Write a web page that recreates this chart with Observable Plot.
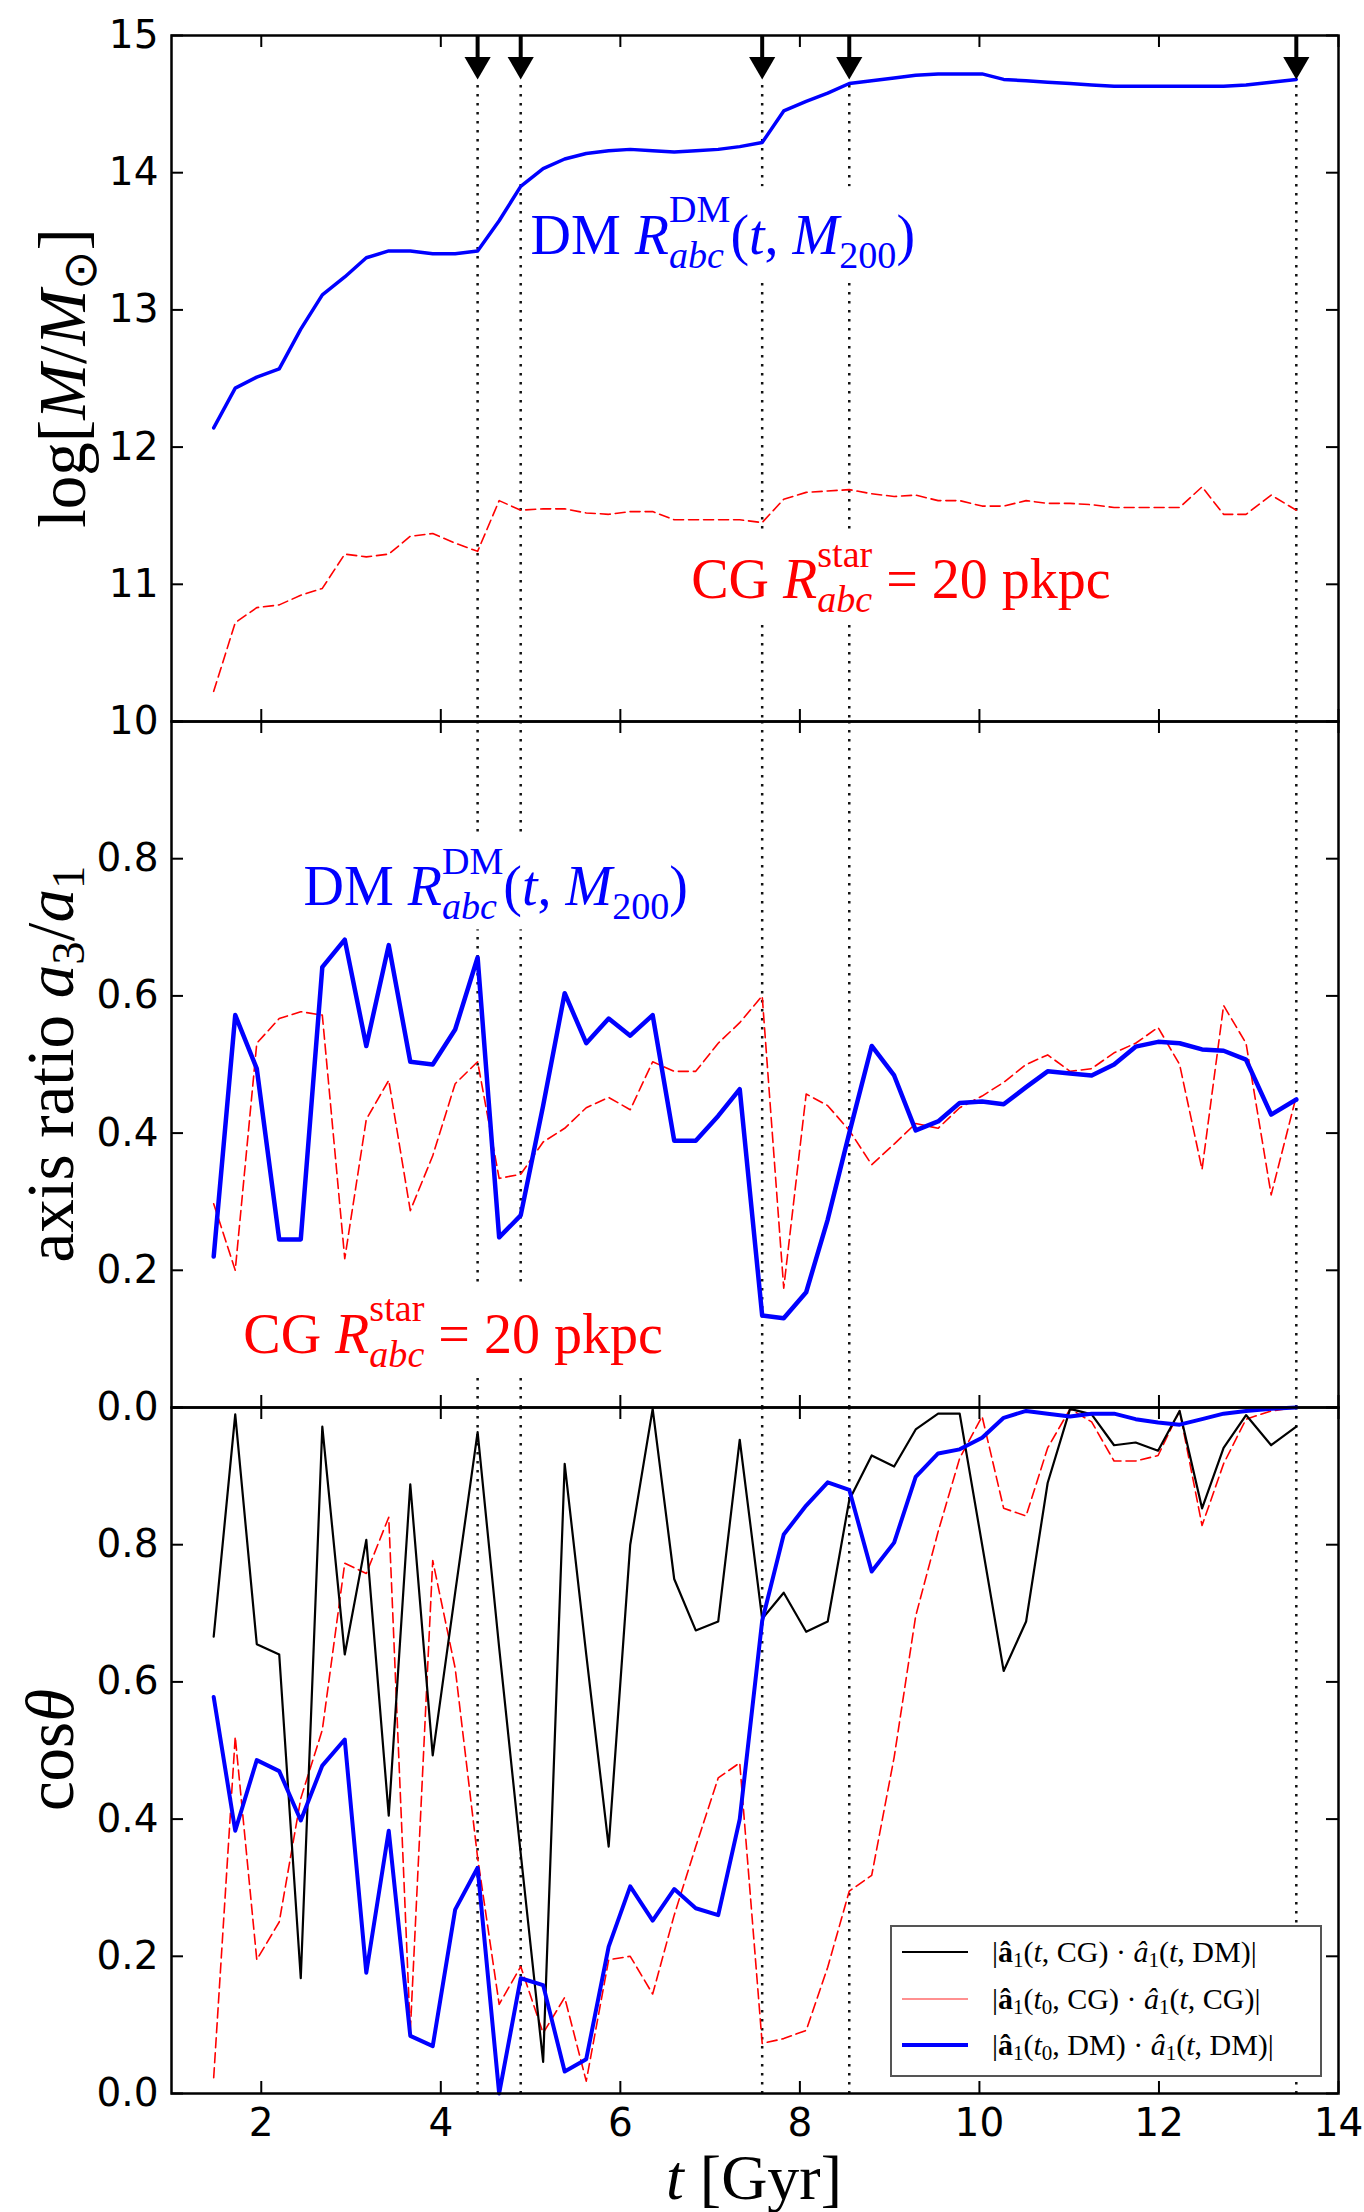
<!DOCTYPE html>
<html><head><meta charset="utf-8">
<script src="https://cdn.jsdelivr.net/npm/d3@7"></script>
<script src="https://cdn.jsdelivr.net/npm/@observablehq/plot@0.6"></script>
<style>
html,body{margin:0;padding:0;background:#fff;}
#chart{position:relative;width:1364px;height:2212px;overflow:hidden;background:#fff;}
.panel{position:absolute;left:0;}
.lab{position:absolute;font-family:"Liberation Serif",serif;font-size:67px;white-space:nowrap;line-height:1;color:#000;}
.ylab{transform:translate(-50%,-50%) rotate(-90deg);}
.xlab{transform:translate(-50%,-50%);font-size:64px;}
.lab sub,.leg sub{font-size:70%;vertical-align:-0.25em;line-height:0;}
#legend{position:absolute;left:890px;top:1925px;width:432px;height:152px;box-sizing:border-box;border:2px solid #555;background:#fff;}
.legline{position:absolute;left:10px;width:66px;}
.leg{position:absolute;left:100px;transform:translateY(-50%);font-family:"Liberation Serif",serif;font-size:30px;white-space:nowrap;line-height:1;}
</style></head><body><div id="chart"></div>
<script>
// ---------------- data ----------------
const t = [1.47,1.71,1.95,2.20,2.44,2.68,2.93,3.17,3.42,3.66,3.91,4.16,4.41,4.65,4.89,5.14,5.38,5.62,5.87,6.11,6.36,6.60,6.84,7.09,7.33,7.58,7.82,8.07,8.31,8.55,8.80,9.05,9.29,9.54,9.78,10.03,10.27,10.52,10.76,11.01,11.25,11.50,11.74,11.99,12.23,12.48,12.72,12.97,13.25,13.53];

// panel 1: log mass
const massDM = [12.14,12.43,12.51,12.57,12.86,13.11,13.24,13.38,13.43,13.43,13.41,13.41,13.43,13.65,13.90,14.03,14.10,14.14,14.16,14.17,14.16,14.15,14.16,14.17,14.19,14.22,14.45,14.52,14.58,14.65,14.67,14.69,14.71,14.72,14.72,14.72,14.68,14.67,14.66,14.65,14.64,14.63,14.63,14.63,14.63,14.63,14.63,14.64,14.66,14.68];
const massCG = [10.22,10.72,10.83,10.85,10.92,10.97,11.22,11.20,11.22,11.35,11.37,11.30,11.24,11.61,11.54,11.55,11.55,11.52,11.51,11.53,11.53,11.47,11.47,11.47,11.47,11.45,11.62,11.67,11.68,11.69,11.66,11.64,11.65,11.61,11.61,11.57,11.57,11.61,11.59,11.59,11.58,11.56,11.56,11.56,11.56,11.71,11.51,11.51,11.65,11.54];

// panel 2: axis ratio a3/a1
const ratioDM = [0.22,0.572,0.494,0.245,0.245,0.642,0.682,0.527,0.674,0.504,0.50,0.551,0.656,0.248,0.28,0.44,0.604,0.531,0.567,0.542,0.572,0.389,0.389,0.425,0.464,0.134,0.13,0.168,0.274,0.40,0.527,0.484,0.404,0.417,0.444,0.446,0.442,0.467,0.49,0.487,0.484,0.50,0.526,0.533,0.531,0.522,0.52,0.507,0.427,0.449];
const ratioCG = [0.297,0.20,0.531,0.567,0.577,0.572,0.217,0.42,0.477,0.287,0.367,0.472,0.504,0.334,0.34,0.387,0.407,0.437,0.452,0.434,0.504,0.49,0.49,0.531,0.561,0.60,0.174,0.457,0.44,0.404,0.354,0.384,0.414,0.407,0.437,0.454,0.474,0.50,0.514,0.49,0.494,0.517,0.531,0.554,0.50,0.347,0.586,0.531,0.31,0.454];

// panel 3: cos theta
const cosCGDM = [0.666,0.99,0.655,0.64,0.168,0.972,0.64,0.807,0.405,0.888,0.493,0.73,0.964,0.65,0.35,0.046,0.918,0.64,0.36,0.80,0.998,0.75,0.675,0.688,0.953,0.692,0.73,0.673,0.688,0.865,0.93,0.914,0.968,0.991,0.991,0.80,0.616,0.688,0.89,0.998,0.99,0.945,0.949,0.937,0.995,0.853,0.941,0.989,0.945,0.972];
const cosCG0 = [0.023,0.52,0.195,0.25,0.43,0.53,0.773,0.758,0.84,0.09,0.777,0.62,0.344,0.13,0.185,0.088,0.14,0.018,0.195,0.20,0.145,0.26,0.36,0.46,0.482,0.073,0.08,0.092,0.184,0.295,0.318,0.49,0.696,0.819,0.926,0.987,0.853,0.842,0.941,0.998,0.979,0.922,0.922,0.93,0.995,0.828,0.918,0.983,0.995,1.0];
const cosDM0 = [0.578,0.383,0.486,0.47,0.398,0.478,0.516,0.176,0.383,0.084,0.069,0.268,0.329,0.0,0.168,0.158,0.032,0.05,0.214,0.302,0.252,0.298,0.27,0.26,0.40,0.689,0.815,0.857,0.891,0.88,0.761,0.803,0.899,0.933,0.939,0.956,0.985,0.995,0.991,0.987,0.991,0.991,0.983,0.978,0.975,0.983,0.991,0.995,0.998,1.0];

const mergers = [4.41, 4.89, 7.58, 8.55, 13.53];
const xTicks = [2,4,6,8,10,12,14];
const yTicks1 = [10,11,12,13,14,15];
const yTicks01 = [0,0.2,0.4,0.6,0.8,1.0];
const yLabels01 = [0,0.2,0.4,0.6,0.8];

// annotation anchors (data coordinates, baseline-left)
const noteDM1 = {t: 5.0, v: 13.41};
const noteCG1 = {t: 6.79, v: 10.9};
const noteDM2 = {t: 2.47, v: 0.732};
const noteCG2 = {t: 1.80, v: 0.08};

// ---------------- layout ----------------
const W = 1364, ML = 171, MR = 26, FH = 686, TICK = 12;
const FW = W - ML - MR;
const BLUE = "#0000ff", RED = "#ff0000";
const baseStyle = {fontFamily: "DejaVu Sans", fontSize: "39px", overflow: "visible", background: "transparent", color: "black"};
const dotted = {stroke: "#111", strokeWidth: 2.5, strokeDasharray: "2.5,6.5"};
const redDash = {stroke: RED, strokeWidth: 1.6, strokeDasharray: "10,5"};

function frameMarks(yTicks) {
  return [
    Plot.tickX(xTicks, {x: d => d, insetTop: FH - TICK, stroke: "black", strokeWidth: 2}),
    Plot.tickX(xTicks, {x: d => d, insetBottom: FH - TICK, stroke: "black", strokeWidth: 2}),
    Plot.tickY(yTicks, {y: d => d, insetRight: FW - TICK, stroke: "black", strokeWidth: 2}),
    Plot.tickY(yTicks, {y: d => d, insetLeft: FW - TICK, stroke: "black", strokeWidth: 2}),
    Plot.frame({stroke: "black", strokeWidth: 2.5})
  ];
}
const NOTE_FS = 56;
function note(n, key, color) {
  return Plot.text([n], {x: "t", y: "v", text: () => key, fill: color, textAnchor: "start", lineAnchor: "bottom",
    fontFamily: "Liberation Serif", fontSize: NOTE_FS});
}

const p1 = Plot.plot({
  width: W, height: 35 + FH, marginTop: 35, marginBottom: 0, marginLeft: ML, marginRight: MR,
  x: {domain: [1, 14], axis: null}, y: {domain: [10, 15]},
  style: baseStyle,
  marks: [
    Plot.ruleX(mergers, {x: d => d, insetTop: 50, ...dotted}),
    Plot.line(massCG, {x: t, y: d => d, ...redDash}),
    Plot.line(massDM, {x: t, y: d => d, stroke: BLUE, strokeWidth: 3.5}),
    note(noteDM1, "KEY_DM1", BLUE),
    note(noteCG1, "KEY_CG1", RED),
    ...frameMarks(yTicks1),
    Plot.tickX(mergers, {x: d => d, insetBottom: FH - 26, stroke: "black", strokeWidth: 4}),
    Plot.dot(mergers, {x: d => d, frameAnchor: "top", dy: 29, symbol: "triangle2", rotate: 180, r: 12.5, fill: "black", stroke: "none"}),
    Plot.axisY({ticks: yTicks1, tickSize: 0, tickPadding: 13, tickFormat: d3.format("d"), label: null})
  ]
});

const p2 = Plot.plot({
  width: W, height: FH, marginTop: 0, marginBottom: 0, marginLeft: ML, marginRight: MR,
  x: {domain: [1, 14], axis: null}, y: {domain: [0, 1]},
  style: baseStyle,
  marks: [
    Plot.ruleX(mergers, {x: d => d, ...dotted}),
    Plot.line(ratioCG, {x: t, y: d => d, ...redDash}),
    Plot.line(ratioDM, {x: t, y: d => d, stroke: BLUE, strokeWidth: 4.5}),
    note(noteDM2, "KEY_DM2", BLUE),
    note(noteCG2, "KEY_CG2", RED),
    ...frameMarks(yTicks01),
    Plot.axisY({ticks: yLabels01, tickSize: 0, tickPadding: 13, tickFormat: d3.format(".1f"), label: null})
  ]
});

const p3 = Plot.plot({
  width: W, height: FH + 119, marginTop: 0, marginBottom: 119, marginLeft: ML, marginRight: MR,
  x: {domain: [1, 14]}, y: {domain: [0, 1]},
  style: baseStyle,
  marks: [
    Plot.ruleX(mergers, {x: d => d, ...dotted}),
    Plot.line(cosCG0, {x: t, y: d => d, ...redDash}),
    Plot.line(cosCGDM, {x: t, y: d => d, stroke: "black", strokeWidth: 2.2}),
    Plot.line(cosDM0, {x: t, y: d => d, stroke: BLUE, strokeWidth: 4}),
    ...frameMarks(yTicks01),
    Plot.axisY({ticks: yLabels01, tickSize: 0, tickPadding: 13, tickFormat: d3.format(".1f"), label: null}),
    Plot.axisX({ticks: xTicks, tickSize: 0, tickPadding: 15, tickFormat: d3.format("d"), label: null})
  ]
});

const chart = document.getElementById("chart");
[[p1, 0], [p2, 35 + FH], [p3, 35 + 2 * FH]].forEach(([p, top]) => {
  p.classList.add("panel"); p.style.top = top + "px"; chart.appendChild(p);
});

// ---------------- rich text for annotations ----------------
const NS = "http://www.w3.org/2000/svg";
function rich(textEl, pieces, fs) {
  textEl.textContent = "";
  let shift = 0, lastW = 0, pendingDx = 0;
  for (const [str, kind] of pieces) {
    const ts = document.createElementNS(NS, "tspan");
    ts.textContent = str;
    const isSub = kind.startsWith("sub"), isSup = kind.startsWith("sup");
    const target = isSub ? 0.25 * fs : isSup ? -0.56 * fs : 0;
    ts.setAttribute("dy", target - shift);
    shift = target;
    if (isSub || isSup) ts.setAttribute("font-size", 0.68 * fs);
    if (kind === "i" || kind === "subi") ts.setAttribute("font-style", "italic");
    if (kind === "supstack") ts.setAttribute("dx", -lastW);
    else if (pendingDx > 0) ts.setAttribute("dx", pendingDx);
    textEl.appendChild(ts);
    const w = ts.getComputedTextLength();
    pendingDx = kind === "supstack" ? Math.max(0, lastW - w) : 0;
    lastW = w;
  }
  // white box behind the text, like the reference
  const b = textEl.getBBox();
  const r = document.createElementNS(NS, "rect");
  r.setAttribute("x", b.x - 4); r.setAttribute("y", b.y - 2);
  r.setAttribute("width", b.width + 8); r.setAttribute("height", b.height + 4);
  r.setAttribute("fill", "white");
  if (textEl.getAttribute("transform")) r.setAttribute("transform", textEl.getAttribute("transform"));
  textEl.parentNode.insertBefore(r, textEl);
}
const dmPieces = [["DM ", "r"], ["R", "i"], ["abc", "subi"], ["DM", "supstack"], ["(", "r"], ["t", "i"], [", ", "r"], ["M", "i"], ["200", "sub"], [")", "r"]];
const cgPieces = [["CG ", "r"], ["R", "i"], ["abc", "subi"], ["star", "supstack"], [" = 20 pkpc", "r"]];
const keys = {KEY_DM1: dmPieces, KEY_DM2: dmPieces, KEY_CG1: cgPieces, KEY_CG2: cgPieces};
chart.querySelectorAll("text").forEach(el => {
  const k = el.textContent;
  if (keys[k]) rich(el, keys[k], NOTE_FS);
});

// ---------------- axis titles ----------------
function addLab(html, cls, x, y) {
  const d = document.createElement("div");
  d.className = "lab " + cls; d.innerHTML = html;
  d.style.left = x + "px"; d.style.top = y + "px";
  chart.appendChild(d);
}
addLab("log[<i>M</i>/<i>M</i><sub>⊙</sub>]", "ylab", 62, 378);
addLab("axis ratio <i>a</i><sub>3</sub>/<i>a</i><sub>1</sub>", "ylab", 50, 1064);
addLab("cos<i>θ</i>", "ylab", 50, 1750);
addLab("<i>t</i> [Gyr]", "xlab", 754, 2178);

// ---------------- legend ----------------
const legendRows = [
  {y: 25, color: "black", w: 2, html: "|<b>â</b><sub>1</sub>(<i>t</i>, CG) · <i>â</i><sub>1</sub>(<i>t</i>, DM)|"},
  {y: 72, color: "#ff9090", w: 1.6, html: "|<b>â</b><sub>1</sub>(<i>t</i><sub>0</sub>, CG) · <i>â</i><sub>1</sub>(<i>t</i>, CG)|"},
  {y: 118, color: BLUE, w: 3.5, html: "|<b>â</b><sub>1</sub>(<i>t</i><sub>0</sub>, DM) · <i>â</i><sub>1</sub>(<i>t</i>, DM)|"}
];
const leg = document.createElement("div"); leg.id = "legend"; chart.appendChild(leg);
legendRows.forEach(r => {
  const l = document.createElement("div"); l.className = "legline";
  l.style.top = (r.y - r.w / 2) + "px"; l.style.height = r.w + "px"; l.style.background = r.color;
  leg.appendChild(l);
  const tx = document.createElement("div"); tx.className = "leg";
  tx.style.top = r.y + "px"; tx.innerHTML = r.html; leg.appendChild(tx);
});
</script></body></html>
